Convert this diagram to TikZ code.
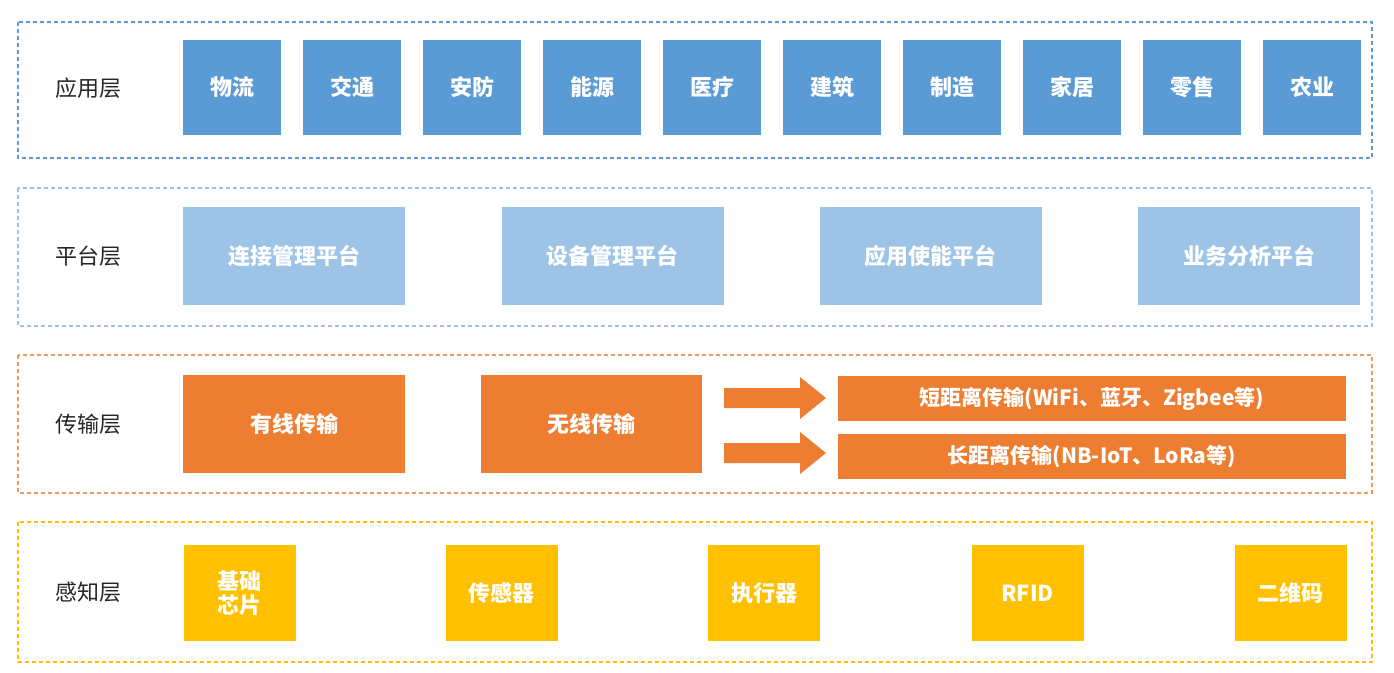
\documentclass[tikz,border=0pt]{standalone}
\usepackage{fontspec}
\setmainfont{Noto Sans CJK SC}
\newfontfamily\cjkb[BoldFont={Noto Sans CJK SC}]{Noto Sans CJK SC}
\usetikzlibrary{shapes.arrows}
\definecolor{cblue}{HTML}{5B9BD5}
\definecolor{clblue}{HTML}{9DC3E6}
\definecolor{corange}{HTML}{ED7D31}
\definecolor{cgold}{HTML}{FFC000}
\begin{document}
\begin{tikzpicture}[x=1pt,y=-1pt,
  layer/.style={draw=#1,dashed,line width=1.3pt,dash pattern=on 4pt off 3pt},
  lab/.style={font=\fontsize{22}{24}\selectfont,text=black!85},
  blk/.style={fill=#1,draw=none,text=white,font=\fontsize{22}{24}\selectfont\bfseries,align=center,inner sep=0pt},
  barrow/.style={fill=corange,draw=none}]
\useasboundingbox (0,0) rectangle (1394,672);
\fill[white] (0,0) rectangle (1394,672);
% layers
\draw[layer=cblue] (18,22) rectangle (1372,158);
\draw[layer=clblue] (18,188) rectangle (1372,326);
\draw[layer=corange!80] (18,355) rectangle (1372,493);
\draw[layer=cgold] (18,522) rectangle (1372,662);
\node[lab] (l1) at (88,88) {应用层};
\node[lab] (l2) at (88,256) {平台层};
\node[lab] (l3) at (88,424) {传输层};
\node[lab] (l4) at (88,592) {感知层};
% app
\foreach \t [count=\i from 0] in {物流,交通,安防,能源,医疗,建筑,制造,家居,零售,农业}{
  \node[blk=cblue,minimum width=98pt,minimum height=95pt] (a\i) at (232+120*\i,87) {\t};
}
% platform
\foreach \t/\x [count=\i] in {连接管理平台/294,设备管理平台/612.5,应用使能平台/930.5,业务分析平台/1249}{
  \node[blk=clblue,minimum width=222pt,minimum height=98pt] (p\i) at (\x,256) {\t};
}
% transmission
\node[blk=corange,minimum width=222pt,minimum height=98pt] (t1) at (294,424) {有线传输};
\node[blk=corange,minimum width=221pt,minimum height=98pt] (t2) at (591.5,424) {无线传输};
\node[blk=corange,minimum width=508pt,minimum height=45pt,font=\fontsize{21}{23}\selectfont\bfseries] (t3) at (1092,398.5) {短距离传输(WiFi、蓝牙、Zigbee等)};
\node[blk=corange,minimum width=508pt,minimum height=45pt,font=\fontsize{21}{23}\selectfont\bfseries] (t4) at (1092,456.5) {长距离传输(NB-IoT、LoRa等)};
\coordinate (s1) at (724,398);
\coordinate (s2) at (724,453);
\fill[barrow] (s1)++(0,-10) -- ++(76,0) -- ++(0,-11) -- ++(26,21) -- ++(-26,21) -- ++(0,-11) -- ++(-76,0) -- cycle;
\fill[barrow] (s2)++(0,-10) -- ++(76,0) -- ++(0,-11) -- ++(26,21) -- ++(-26,21) -- ++(0,-11) -- ++(-76,0) -- cycle;
% perception
\foreach \t/\x [count=\i] in {{基础\\芯片}/239.5,传感器/501.5,执行器/764,RFID/1027.5,二维码/1290.5}{
  \node[blk=cgold,minimum width=112pt,minimum height=96pt] (s\i) at (\x,593) {\t};
}
\end{tikzpicture}
\end{document}
